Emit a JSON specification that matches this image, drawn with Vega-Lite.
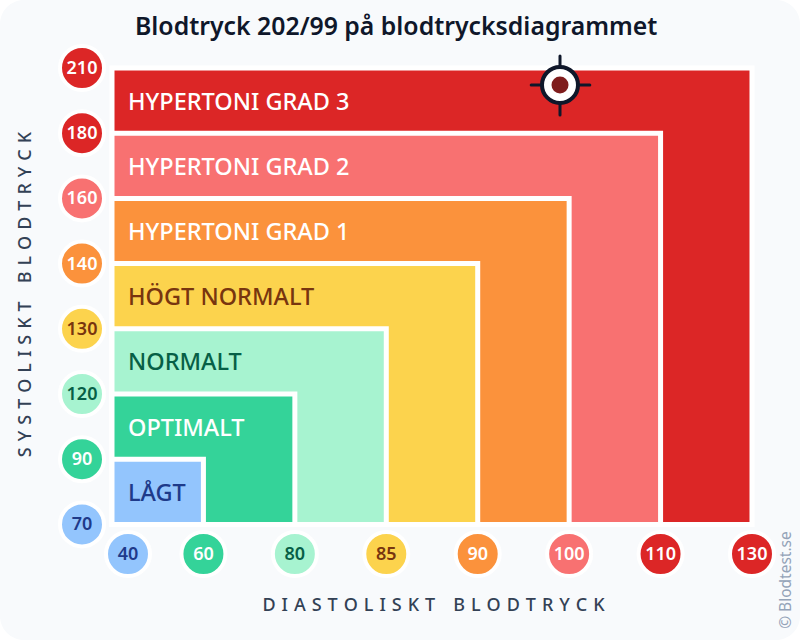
{
  "$schema": "https://vega.github.io/schema/vega-lite/v6.json",
  "description": "Blodtrycksdiagram med zoner for systoliskt och diastoliskt blodtryck, markering vid 202/99.",
  "width": 800,
  "height": 640,
  "padding": 0,
  "autosize": {"type": "none"},
  "background": "#ffffff",
  "title": {
    "text": "Blodtryck 202/99 på blodtrycksdiagrammet",
    "anchor": "start",
    "frame": "group",
    "dx": 135,
    "offset": -40,
    "fontSize": 24.8,
    "fontWeight": 600,
    "font": "Noto Sans",
    "color": "#0f172a"
  },
  "datasets": {
    "zones": [
      {"zone": "HYPERTONI GRAD 3", "x": 0, "x2": 7, "y": 0, "y2": 7},
      {"zone": "HYPERTONI GRAD 2", "x": 0, "x2": 6, "y": 0, "y2": 6},
      {"zone": "HYPERTONI GRAD 1", "x": 0, "x2": 5, "y": 0, "y2": 5},
      {"zone": "HÖGT NORMALT", "x": 0, "x2": 4, "y": 0, "y2": 4},
      {"zone": "NORMALT", "x": 0, "x2": 3, "y": 0, "y2": 3},
      {"zone": "OPTIMALT", "x": 0, "x2": 2, "y": 0, "y2": 2},
      {"zone": "LÅGT", "x": 0, "x2": 1, "y": 0, "y2": 1}
    ],
    "zone_labels": [
      {"zone": "HYPERTONI GRAD 3", "x": 0.175, "y": 6.5},
      {"zone": "HYPERTONI GRAD 2", "x": 0.175, "y": 5.5},
      {"zone": "HYPERTONI GRAD 1", "x": 0.175, "y": 4.5},
      {"zone": "HÖGT NORMALT", "x": 0.175, "y": 3.5},
      {"zone": "NORMALT", "x": 0.175, "y": 2.5},
      {"zone": "OPTIMALT", "x": 0.175, "y": 1.5},
      {"zone": "LÅGT", "x": 0.175, "y": 0.5}
    ],
    "ticks": [
      {"value": "210", "zone": "HYPERTONI GRAD 3", "x": -0.328, "y": 7},
      {"value": "180", "zone": "HYPERTONI GRAD 3", "x": -0.328, "y": 6},
      {"value": "160", "zone": "HYPERTONI GRAD 2", "x": -0.328, "y": 5},
      {"value": "140", "zone": "HYPERTONI GRAD 1", "x": -0.328, "y": 4},
      {"value": "130", "zone": "HÖGT NORMALT", "x": -0.328, "y": 3},
      {"value": "120", "zone": "NORMALT", "x": -0.328, "y": 2},
      {"value": "90", "zone": "OPTIMALT", "x": -0.328, "y": 1},
      {"value": "70", "zone": "LÅGT", "x": -0.328, "y": 0},
      {"value": "40", "zone": "LÅGT", "x": 0.175, "y": -0.454},
      {"value": "60", "zone": "OPTIMALT", "x": 1, "y": -0.454},
      {"value": "80", "zone": "NORMALT", "x": 2, "y": -0.454},
      {"value": "85", "zone": "HÖGT NORMALT", "x": 3, "y": -0.454},
      {"value": "90", "zone": "HYPERTONI GRAD 1", "x": 4, "y": -0.454},
      {"value": "100", "zone": "HYPERTONI GRAD 2", "x": 5, "y": -0.454},
      {"value": "110", "zone": "HYPERTONI GRAD 3", "x": 6, "y": -0.454},
      {"value": "130", "zone": "HYPERTONI GRAD 3", "x": 7, "y": -0.454}
    ],
    "crosshair": [
      {"x": 4.585, "x2": 5.226, "y": 6.74, "y2": 6.74},
      {"x": 4.9, "x2": 4.9, "y": 7.184, "y2": 6.279}
    ],
    "reading": [
      {"systolic": 202, "diastolic": 99, "x": 4.9, "y": 6.74}
    ],
    "credit": [
      {"text": "© Blodtest.se", "x": 7.37, "y": -0.853}
    ]
  },
  "encoding": {
    "x": {
      "field": "x",
      "type": "quantitative",
      "scale": {"domain": [-1.225, 7.525], "nice": false, "zero": false},
      "axis": {
        "title": "D\u2004I\u2004A\u2004S\u2004T\u2004O\u2004L\u2004I\u2004S\u2004K\u2004T\u2003B\u2004L\u2004O\u2004D\u2004T\u2004R\u2004Y\u2004C\u2004K",
        "domain": false,
        "ticks": false,
        "labels": false,
        "grid": false,
        "titleX": 433,
        "titleY": -35,
        "titleAlign": "center",
        "titleBaseline": "middle",
        "titleFont": "Noto Sans",
        "titleFontSize": 18,
        "titleFontWeight": 500,
        "titleColor": "#334155"
      }
    },
    "y": {
      "field": "y",
      "type": "quantitative",
      "scale": {"domain": [-1.773, 8.043], "nice": false, "zero": false},
      "axis": {
        "title": "S\u2004Y\u2004S\u2004T\u2004O\u2004L\u2004I\u2004S\u2004K\u2004T\u2003B\u2004L\u2004O\u2004D\u2004T\u2004R\u2004Y\u2004C\u2004K",
        "domain": false,
        "ticks": false,
        "labels": false,
        "grid": false,
        "titleX": 25,
        "titleY": 294,
        "titleAlign": "center",
        "titleBaseline": "middle",
        "titleFont": "Noto Sans",
        "titleFontSize": 18,
        "titleFontWeight": 500,
        "titleColor": "#334155"
      }
    }
  },
  "layer": [
    {
      "data": {"name": "zones"},
      "mark": {"type": "rect", "stroke": "#ffffff", "strokeWidth": 5},
      "encoding": {
        "x2": {"field": "x2"},
        "y2": {"field": "y2"},
        "color": {
          "field": "zone",
          "type": "nominal",
          "legend": null,
          "scale": {
            "domain": ["HYPERTONI GRAD 3", "HYPERTONI GRAD 2", "HYPERTONI GRAD 1", "HÖGT NORMALT", "NORMALT", "OPTIMALT", "LÅGT"],
            "range": ["#dc2626", "#f87171", "#fb923c", "#fcd34d", "#a7f3d0", "#34d399", "#93c5fd"]
          }
        }
      }
    },
    {
      "data": {"name": "zone_labels"},
      "mark": {"type": "text", "align": "left", "baseline": "middle", "dy": 2, "font": "Noto Sans", "fontSize": 23.5, "fontWeight": 500},
      "encoding": {
        "text": {"field": "zone"},
        "color": {
          "field": "zone",
          "type": "nominal",
          "legend": null,
          "scale": {
            "domain": ["HYPERTONI GRAD 3", "HYPERTONI GRAD 2", "HYPERTONI GRAD 1", "HÖGT NORMALT", "NORMALT", "OPTIMALT", "LÅGT"],
            "range": ["#ffffff", "#ffffff", "#ffffff", "#78350f", "#065f46", "#ffffff", "#1e3a8a"]
          }
        }
      }
    },
    {
      "data": {"name": "ticks"},
      "mark": {"type": "circle", "size": 1936, "opacity": 1, "stroke": "#ffffff", "strokeWidth": 4},
      "encoding": {
        "color": {
          "field": "zone",
          "type": "nominal",
          "legend": null,
          "scale": {
            "domain": ["HYPERTONI GRAD 3", "HYPERTONI GRAD 2", "HYPERTONI GRAD 1", "HÖGT NORMALT", "NORMALT", "OPTIMALT", "LÅGT"],
            "range": ["#dc2626", "#f87171", "#fb923c", "#fcd34d", "#a7f3d0", "#34d399", "#93c5fd"]
          }
        }
      }
    },
    {
      "data": {"name": "ticks"},
      "mark": {"type": "text", "align": "center", "baseline": "middle", "dy": 1, "font": "Noto Sans", "fontSize": 18, "fontWeight": 600},
      "encoding": {
        "text": {"field": "value"},
        "color": {
          "field": "zone",
          "type": "nominal",
          "legend": null,
          "scale": {
            "domain": ["HYPERTONI GRAD 3", "HYPERTONI GRAD 2", "HYPERTONI GRAD 1", "HÖGT NORMALT", "NORMALT", "OPTIMALT", "LÅGT"],
            "range": ["#ffffff", "#ffffff", "#ffffff", "#78350f", "#065f46", "#ffffff", "#1e3a8a"]
          }
        }
      }
    },
    {
      "data": {"name": "crosshair"},
      "mark": {"type": "rule", "color": "#0f172a", "strokeWidth": 3, "strokeCap": "round"},
      "encoding": {
        "x2": {"field": "x2"},
        "y2": {"field": "y2"}
      }
    },
    {
      "data": {"name": "reading"},
      "mark": {"type": "circle", "size": 1296, "opacity": 1, "color": "#ffffff", "stroke": "#0f172a", "strokeWidth": 4}
    },
    {
      "data": {"name": "reading"},
      "mark": {"type": "circle", "size": 289, "opacity": 1, "color": "#7f1d1d"}
    },
    {
      "data": {"name": "credit"},
      "mark": {"type": "text", "angle": 270, "align": "center", "baseline": "middle", "font": "Noto Sans", "fontSize": 15.5, "color": "#94a3b8"},
      "encoding": {
        "text": {"field": "text"}
      }
    }
  ],
  "resolve": {"scale": {"color": "independent"}},
  "config": {
    "view": {"fill": "#f8fafc", "stroke": null, "cornerRadius": 24}
  }
}
